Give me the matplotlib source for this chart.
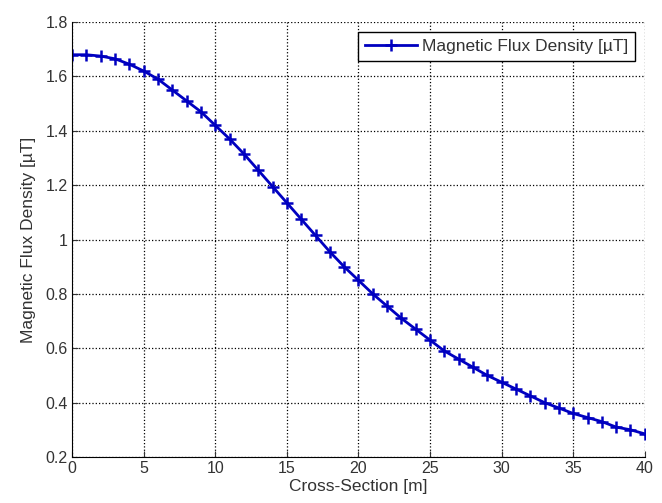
import matplotlib
matplotlib.use('Agg')
import matplotlib.pyplot as plt

# cross-section positions [m] and flux density [uT]
cross_section = list(range(0, 41))
flux_density = [1.68, 1.68, 1.675, 1.665, 1.645, 1.62, 1.59, 1.55, 1.51, 1.47,
                1.42, 1.37, 1.315, 1.255, 1.195, 1.135, 1.075, 1.015, 0.955, 0.90,
                0.85, 0.80, 0.755, 0.71, 0.67, 0.63, 0.59, 0.56, 0.53, 0.50,
                0.475, 0.45, 0.425, 0.40, 0.38, 0.36, 0.345, 0.33, 0.31, 0.30,
                0.285]

x_ticks = [0, 5, 10, 15, 20, 25, 30, 35, 40]
y_ticks = [0.2, 0.4, 0.6, 0.8, 1.0, 1.2, 1.4, 1.6, 1.8]
y_labels = ['0.2', '0.4', '0.6', '0.8', '1', '1.2', '1.4', '1.6', '1.8']

plt.rcParams['font.family'] = ['Liberation Sans', 'DejaVu Sans']

fig = plt.figure(figsize=(6.62, 5.03), dpi=100)
ax = fig.add_axes([0.109, 0.0915, 0.865, 0.8645])

ax.plot(cross_section, flux_density, color='#0000c0', linewidth=2,
        marker='+', markersize=9, markeredgewidth=1.8,
        label='Magnetic Flux Density [\u00b5T]')

ax.set_xlim(0, 40)
ax.set_ylim(0.2, 1.8)
ax.set_xticks(x_ticks)
ax.set_yticks(y_ticks)
ax.set_yticklabels(y_labels)
ax.tick_params(direction='in', labelsize=11.5, length=4, pad=3, colors='#333333')

ax.grid(True, linestyle=':', color='black', linewidth=0.9)
ax.spines['top'].set_visible(False)
ax.spines['right'].set_visible(False)

ax.set_xlabel('Cross-Section [m]', fontsize=12.5, labelpad=2, color='#333333')
ax.set_ylabel('Magnetic Flux Density [\u00b5T]', fontsize=12.5, labelpad=7,
              color='#333333')

leg = ax.legend(loc='upper right', prop={'size': 12.5}, fancybox=False,
                framealpha=1, edgecolor='black', borderaxespad=0.55,
                handlelength=3.0, handletextpad=0.3, borderpad=0.4)
leg.get_frame().set_linewidth(1.0)
for t in leg.get_texts():
    t.set_color('#333333')

fig.savefig('out.png', dpi=100)
